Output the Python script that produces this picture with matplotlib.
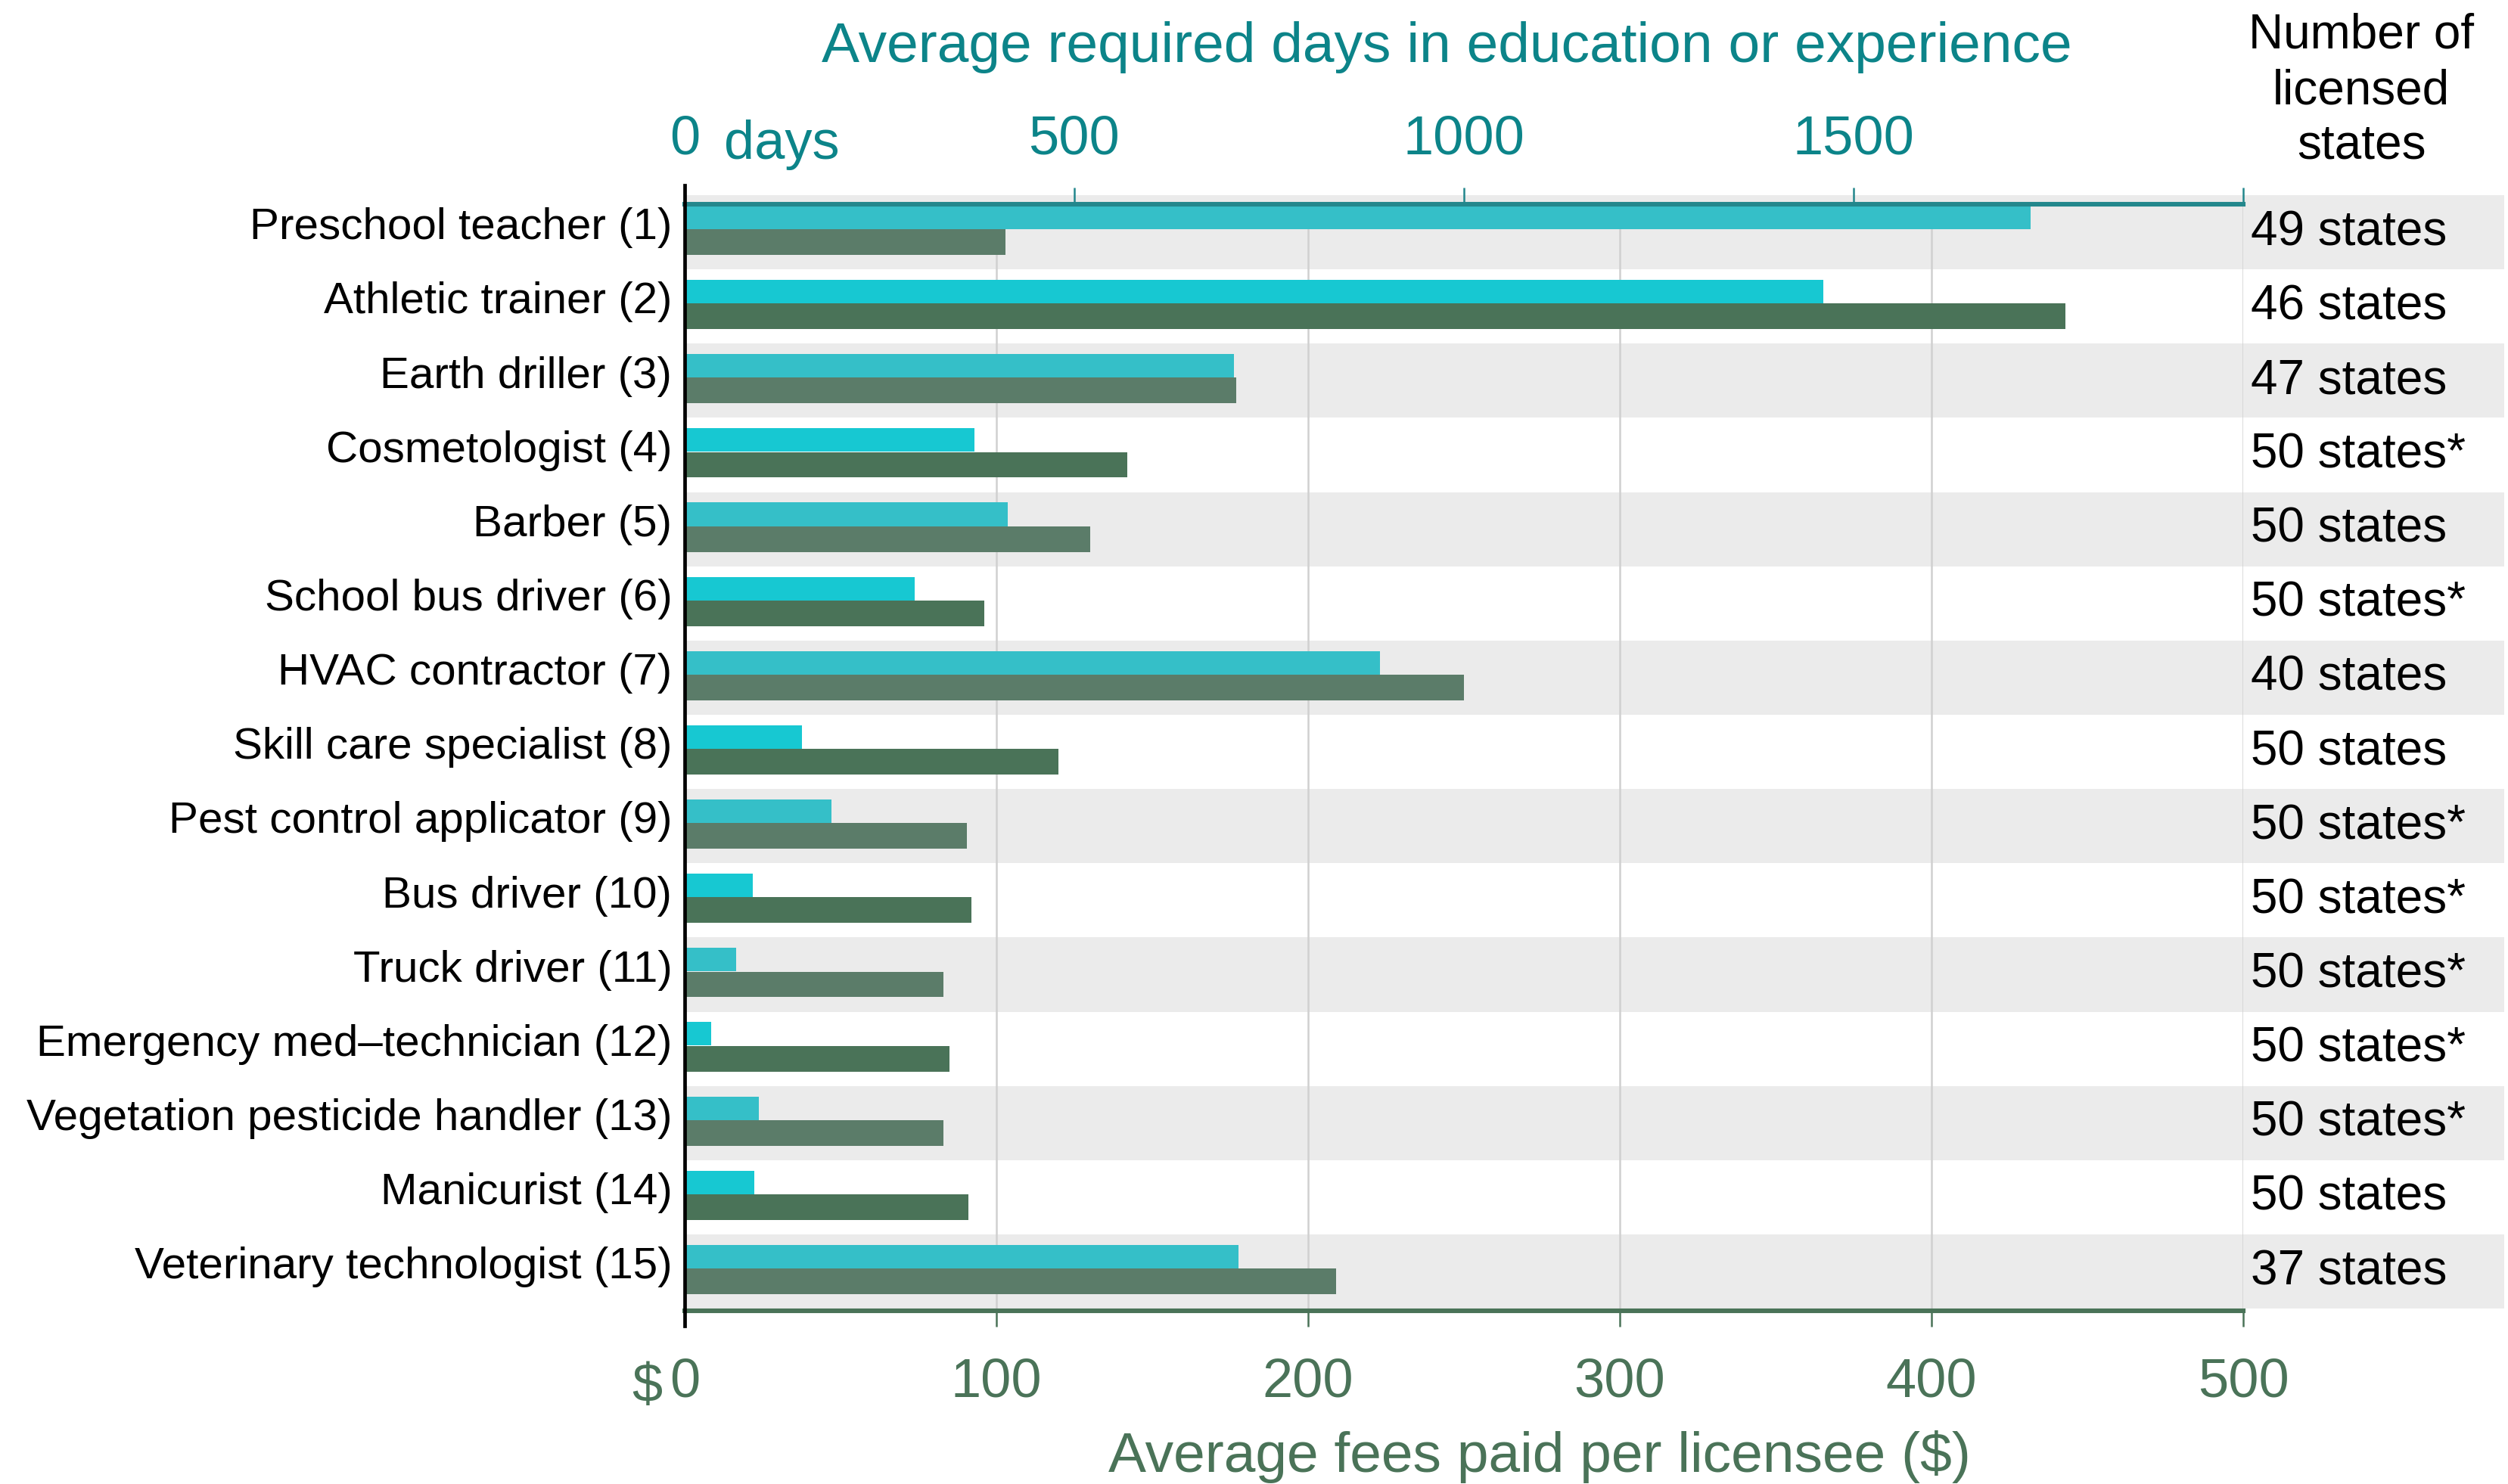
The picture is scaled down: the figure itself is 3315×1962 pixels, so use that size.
import matplotlib
matplotlib.use("Agg")
import matplotlib.pyplot as plt
from matplotlib import transforms

plt.rcParams['font.family'] = ['Liberation Sans', 'DejaVu Sans']

# data
occupations = [
    "Preschool teacher (1)", "Athletic trainer (2)", "Earth driller (3)",
    "Cosmetologist (4)", "Barber (5)", "School bus driver (6)",
    "HVAC contractor (7)", "Skill care specialist (8)",
    "Pest control applicator (9)", "Bus driver (10)", "Truck driver (11)",
    "Emergency med\u2013technician (12)", "Vegetation pesticide handler (13)",
    "Manicurist (14)", "Veterinary technologist (15)",
]
days_required = [1727, 1461, 705, 372, 415, 295, 892, 151, 188, 87, 66, 34, 95, 89, 711]
fees_paid = [103, 443, 177, 142, 130, 96, 250, 120, 90.5, 92, 83, 85, 83, 91, 209]
licensed_states = [
    "49 states", "46 states", "47 states", "50 states*", "50 states",
    "50 states*", "40 states", "50 states", "50 states*", "50 states*",
    "50 states*", "50 states*", "50 states*", "50 states", "37 states",
]
fee_ticks = [0, 100, 200, 300, 400, 500]
day_ticks = [0, 500, 1000, 1500, 2000]
day_tick_labels = ["0", "500", "1000", "1500", ""]

TEAL_TXT = "#0c8489"
TEAL_LINE = "#23878c"
GREEN = "#4a7358"
BAND = "#ebebeb"

fig = plt.figure(figsize=(16.58, 9.81), dpi=200)
ax = fig.add_axes([0.2729, 0.1167, 0.6213, 0.7457])
ax2 = ax.twiny()

n = len(occupations)
ypos = list(range(n))

# alternating row bands, running under the states column too
for i in ypos:
    if i % 2 == 0:
        ax.axhspan(i - 0.5, i + 0.5, xmin=0, xmax=1.1675, color=BAND,
                   lw=0, zorder=0, clip_on=False)

teal_cols = ["#35bfc8" if i % 2 == 0 else "#17c8d2" for i in ypos]
green_cols = ["#5b7c69" if i % 2 == 0 else "#4a7358" for i in ypos]

ax.barh([y + 0.133 for y in ypos], fees_paid, height=0.345, color=green_cols, zorder=2)
ax2.barh([y - 0.2 for y in ypos], days_required, height=0.316, color=teal_cols, zorder=2)

ax.set_xlim(0, 500)
ax2.set_xlim(0, 2000)
ax.set_ylim(14.53, -0.378)

ax.set_xticks(fee_ticks)
ax.set_xticklabels([str(t) for t in fee_ticks])
# labels sit a little above the row middle
ax.set_yticks([y - 0.12 for y in ypos])
ax.set_yticklabels(occupations)
ax2.set_xticks(day_ticks)
ax2.set_xticklabels(day_tick_labels)

ax.set_axisbelow(True)
ax.grid(axis='x', color='#d0d0d0', lw=0.9)
ax.grid(axis='y', visible=False)

for s in ['top', 'right', 'left']:
    ax.spines[s].set_visible(False)
ax.spines['bottom'].set_color(GREEN)
ax.spines['bottom'].set_linewidth(2.2)
for s in ['bottom', 'right', 'left']:
    ax2.spines[s].set_visible(False)
ax2.spines['top'].set_color(TEAL_LINE)
ax2.spines['top'].set_linewidth(2.2)

ax.tick_params(axis='x', colors=GREEN, length=7.5, width=0.9, labelsize=26, pad=14.5)
ax.tick_params(axis='y', length=0, pad=6, labelsize=21, labelcolor='black')
ax2.tick_params(axis='x', colors=TEAL_LINE, labelcolor=TEAL_TXT, length=8,
                width=0.9, labelsize=26, pad=10.5)

# black axis line reaching past both tick rows
ax2.plot([0, 0], [-0.0137, 1.017], transform=ax2.transAxes, color='black',
         lw=1.7, clip_on=False, zorder=6)

# number of licensed states column
trans = transforms.blended_transform_factory(ax.transAxes, ax.transData)
for y, s in zip(ypos, licensed_states):
    ax.text(1.005, y, s, transform=trans, ha='left', va='center', fontsize=23)

for txt, yb in zip(["Number of", "licensed", "states"], [63, 137, 210]):
    fig.text(3121 / 3316, 1 - yb / 1962, txt, ha='center', va='baseline', fontsize=23)

fig.text(1912 / 3316, 1 - 82 / 1962, "Average required days in education or experience",
         ha='center', va='baseline', fontsize=27, color=TEAL_TXT)
fig.text(957 / 3316, 1 - 210 / 1962, "days", ha='left', va='baseline',
         fontsize=26, color=TEAL_TXT)
fig.text(875 / 3316, 1 - 1853 / 1962, "$", ha='right', va='baseline',
         fontsize=26, color=GREEN)
fig.text(2035 / 3316, 1 - 1946 / 1962, "Average fees paid per licensee ($)",
         ha='center', va='baseline', fontsize=27, color=GREEN)

fig.savefig("out.png", dpi=200)
